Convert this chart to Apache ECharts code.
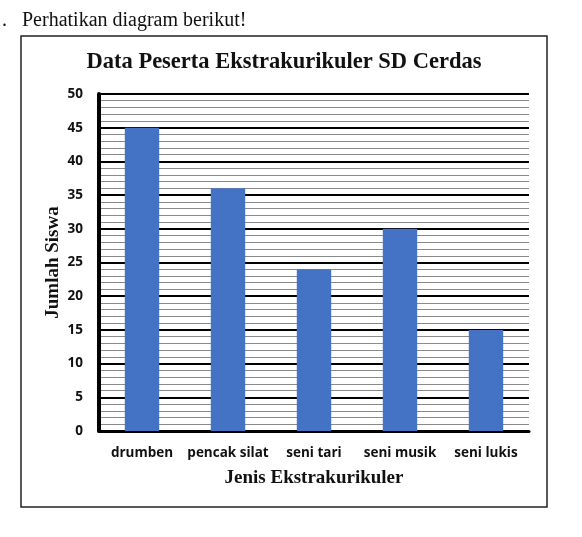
<!DOCTYPE html>
<html>
<head>
<meta charset="utf-8">
<script src="https://cdn.jsdelivr.net/npm/echarts@6/dist/echarts.min.js"></script>
<style>
html,body{margin:0;padding:0;background:#fff;}
#c{width:582px;height:537px;}
</style>
</head>
<body>
<div id="c"></div>
<script>
const categories = ['drumben', 'pencak silat', 'seni tari', 'seni musik', 'seni lukis'];
const values = [45, 36, 24, 30, 15];
const yTicks = [0, 5, 10, 15, 20, 25, 30, 35, 40, 45, 50];

const chart = echarts.init(document.getElementById('c'));
chart.setOption({
  animation: false,
  backgroundColor: '#fff',
  graphic: [
    {type: 'rect', shape: {x: 21, y: 36, width: 526, height: 471}, style: {fill: 'none', stroke: '#222', lineWidth: 1.5}, z: -1},
    {type: 'text', x: 22, y: 21, style: {text: 'Perhatikan diagram berikut!', font: '20px "Liberation Serif"', fill: '#111', textVerticalAlign: 'middle'}},
    {type: 'text', x: 2, y: 21, style: {text: '.', font: '20px "Liberation Serif"', fill: '#111', textVerticalAlign: 'middle'}},
    {type: 'text', x: 284, y: 62, style: {text: 'Data Peserta Ekstrakurikuler SD Cerdas', font: 'bold 22.5px "Liberation Serif"', fill: '#111', textAlign: 'center', textVerticalAlign: 'middle'}}
  ],
  grid: {left: 99, right: 53, top: 94, bottom: 106},
  xAxis: {
    type: 'category',
    data: categories,
    name: 'Jenis Ekstrakurikuler',
    nameLocation: 'middle',
    nameGap: 38,
    nameTextStyle: {fontFamily: 'Liberation Serif', fontWeight: 'bold', fontSize: 19, color: '#111'},
    axisLine: {lineStyle: {color: '#000', width: 3}},
    axisTick: {show: false},
    axisLabel: {interval: 0, margin: 15, fontFamily: 'Open Sans', fontWeight: 'bold', fontSize: 13.5, color: '#111'}
  },
  yAxis: {
    type: 'value',
    min: 0,
    max: 50,
    interval: 5,
    name: 'Jumlah Siswa',
    nameLocation: 'middle',
    nameGap: 36,
    nameMoveOverlap: false,
    nameTextStyle: {fontFamily: 'Liberation Serif', fontWeight: 'bold', fontSize: 19, color: '#111'},
    axisLine: {show: true, lineStyle: {color: '#000', width: 4}},
    axisTick: {show: false},
    axisLabel: {
      margin: 16, fontFamily: 'Open Sans', fontWeight: 'bold', fontSize: 13.5, color: '#111',
      formatter: function (v) { return yTicks.indexOf(v) >= 0 ? String(v) : ''; }
    },
    splitLine: {show: true, lineStyle: {color: '#000', width: 2}},
    minorTick: {show: false, splitNumber: 5},
    minorSplitLine: {show: true, lineStyle: {color: '#8a8a8a', width: 1}}
  },
  series: [{
    type: 'bar',
    data: values,
    barWidth: '40%',
    itemStyle: {color: '#4472C4'},
    z: 3
  }]
});
</script>
</body>
</html>
